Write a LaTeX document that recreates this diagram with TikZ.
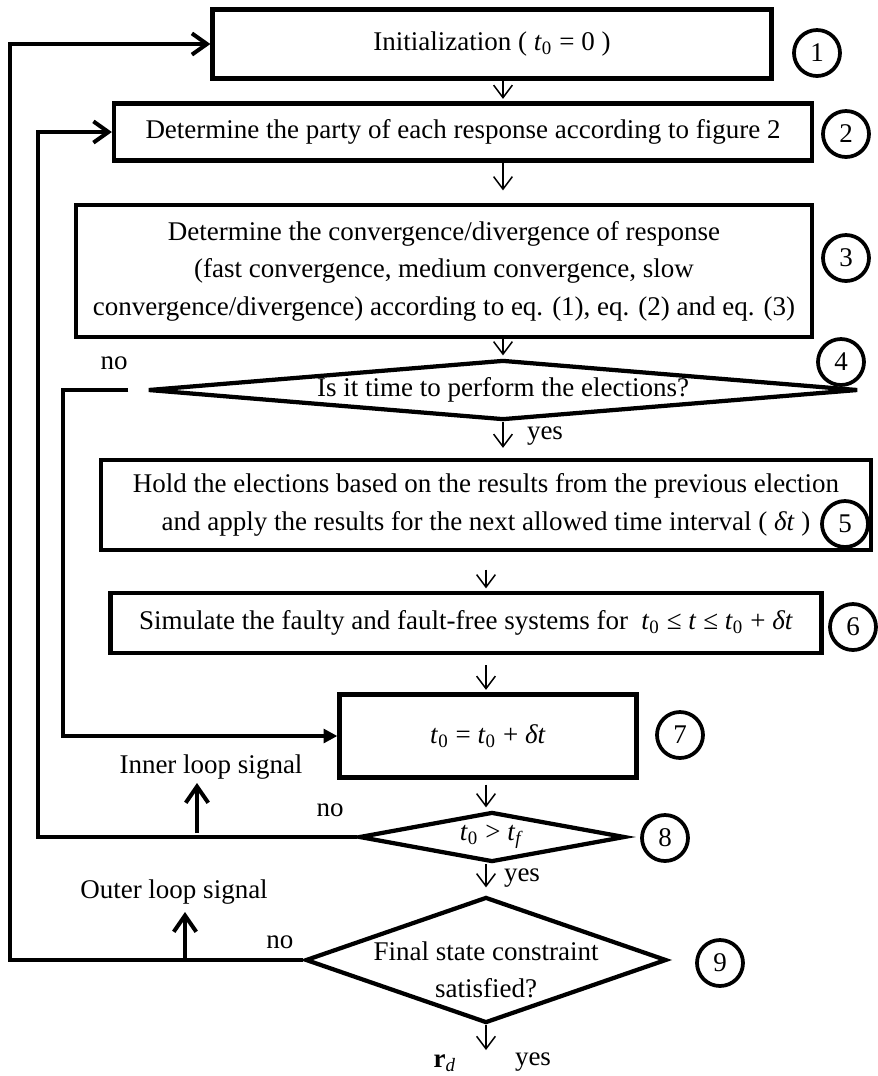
\documentclass[tikz,border=0pt]{standalone}
\usepackage{fontspec}
\setmainfont{Liberation Serif}
\usetikzlibrary{shapes.geometric,arrows.meta}
\newcommand{\tvar}[1]{\textit{t}\textsubscript{#1}}

\begin{document}
\begin{tikzpicture}[x=0.4pt,y=-0.4pt,
  box/.style={draw,line width=1.7pt,inner sep=0pt,align=center},
  decision/.style={draw,diamond,line width=1.7pt,inner sep=0pt,align=center},
  num/.style={draw,circle,line width=1.5pt,minimum size=18.4pt,inner sep=0pt},
  flow/.style={-{Straight Barb[length=5pt,width=7.5pt]},line width=0.6pt,shorten >=1pt},
  loop/.style={line width=1.6pt},
  back/.style={loop,-{Straight Barb[length=6pt,width=8.5pt]}},
  sig/.style={loop,-{Straight Barb[length=6.5pt,width=9pt]}}]
\fontsize{10.8}{15}\selectfont
\useasboundingbox (0,0) rectangle (878,1076);
% boxes and decisions
\node (b1) at (492,44) [box,minimum width=223.6pt,minimum height=27.6pt] {Initialization ( \tvar{0} = 0 )};
\node (b2) at (463,132) [box,minimum width=279.2pt,minimum height=22.8pt] {Determine the party of each response according to figure 2};
\node (b3) at (444,271) [box,minimum width=294.4pt,minimum height=52.8pt] {Determine the convergence/divergence of response\\(fast convergence, medium convergence, slow\\convergence/divergence) according to eq. (1), eq. (2) and eq. (3)};
\node (d4) at (503,390) [decision,aspect=11.8,minimum width=284pt,minimum height=24pt] {Is it time to perform the elections?};
\node (b5) at (486,505) [box,minimum width=308pt,minimum height=36pt] {Hold the elections based on the results from the previous election\\and apply the results for the next allowed time interval ( \textit{δt} )};
\node (b6) at (466,623) [box,minimum width=284.4pt,minimum height=24pt] {Simulate the faulty and fault-free systems for \ \tvar{0} ≤ \textit{t} ≤ \tvar{0} + \textit{δt}};
\node (b7) at (488,736) [box,minimum width=118.8pt,minimum height=33.2pt] {\tvar{0} = \tvar{0} + \textit{δt}};
\node (d8) at (492,837) [decision,aspect=5.3,minimum width=106.4pt,minimum height=20pt] {\tvar{0} > \tvar{\textit{f}}};
\node (d9) at (486,960) [decision,aspect=2.86,minimum width=144.4pt,minimum height=50.4pt] {\smash{\begin{tabular}[t]{@{}c@{}}Final state constraint\\satisfied?\end{tabular}}};
% step numbers
\node (c1) at (817,53) [num] {1};
\node (c2) at (846,134) [num] {2};
\node (c3) at (846,258) [num] {3};
\node (c4) at (841,362) [num] {4};
\node (c5) at (845,524) [num] {5};
\node (c6) at (853,627) [num] {6};
\node (c7) at (680,735) [num] {7};
\node (c8) at (665,838) [num] {8};
\node (c9) at (720,963) [num] {9};
% main flow
\draw[flow] (b1.south -| d4) -- (b2.north -| d4);
\draw[flow,shorten >=5pt] (b2.south -| d4) -- (b3.north -| d4);
\draw[flow] (b3.south -| d4) -- (d4.north);
\draw[flow,shorten >=4pt] (d4.south) -- (b5.north -| d4);
\draw[flow,shorten <=7pt] (b5.south -| d9) -- (b6.north -| d9);
\draw[flow,shorten <=4pt] (b6.south -| d9) -- (b7.north -| d9);
\draw[flow,shorten <=2pt] (b7.south -| d9) -- (d8.north -| d9);
\draw[flow,shorten >=3pt] (d8.south -| d9) -- (d9.north);
\coordinate (out) at (486,1050);
\draw[flow,shorten >=0pt] (d9.south) -- (out);
% loops
\draw[loop,-{Triangle[length=5.5pt,width=5.5pt]},shorten <=7pt] (d4.west) -- (63,390) |- (b7.west);
\draw[back] (d8.west) -- (38,837) |- (b2.west);
\draw[back] (d9.west) -- (10,960) |- (b1.west);
\coordinate (itail) at (197,833);
\coordinate (ihead) at (197,783);
\draw[sig] (itail) -- (ihead);
\coordinate (otail) at (185,960);
\coordinate (ohead) at (185,912);
\draw[sig] (otail) -- (ohead);
% labels
\node (no4) at (114,363) {no};
\node (yes4) at (545,436) {yes};
\node (isig) at (211,767) {Inner loop signal};
\node (no8) at (330,810) {no};
\node (yes8) at (522,878) {yes};
\node (osig) at (174,892) {Outer loop signal};
\node (no9) at (280,942) {no};
\node (rd) at (445,1063) {\textbf{r}\textsubscript{\textit{d}}};
\node (yes9) at (533,1062) {yes};
\end{tikzpicture}
\end{document}
